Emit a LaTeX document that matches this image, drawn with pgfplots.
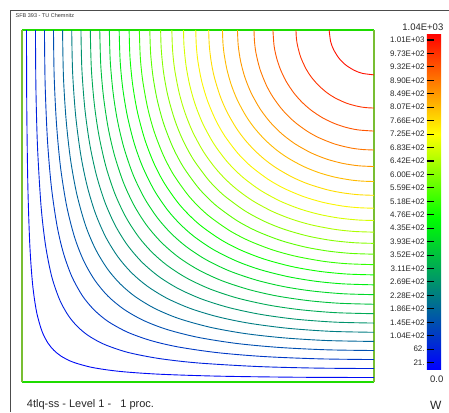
\documentclass[border=0pt]{standalone}
\usepackage{pgfplots}
\pgfplotsset{compat=1.18}
\usepackage{fontspec}
\setmainfont{Liberation Sans}
\definecolor{c0}{RGB}{0,11,244}
\definecolor{c1}{RGB}{0,34,221}
\definecolor{c2}{RGB}{0,57,198}
\definecolor{c3}{RGB}{0,79,176}
\definecolor{c4}{RGB}{0,102,153}
\definecolor{c5}{RGB}{0,125,130}
\definecolor{c6}{RGB}{0,147,108}
\definecolor{c7}{RGB}{0,170,85}
\definecolor{c8}{RGB}{0,193,62}
\definecolor{c9}{RGB}{0,215,40}
\definecolor{c10}{RGB}{0,238,17}
\definecolor{c11}{RGB}{10,255,0}
\definecolor{c12}{RGB}{51,255,0}
\definecolor{c13}{RGB}{92,255,0}
\definecolor{c14}{RGB}{133,255,0}
\definecolor{c15}{RGB}{173,255,0}
\definecolor{c16}{RGB}{214,255,0}
\definecolor{c17}{RGB}{250,245,0}
\definecolor{c18}{RGB}{255,221,0}
\definecolor{c19}{RGB}{255,187,0}
\definecolor{c20}{RGB}{255,153,0}
\definecolor{c21}{RGB}{255,119,0}
\definecolor{c22}{RGB}{255,85,0}
\definecolor{c23}{RGB}{255,51,0}
\definecolor{c24}{RGB}{255,17,0}
\definecolor{framex}{RGB}{30,220,0}
\definecolor{framey}{RGB}{120,190,50}
\begin{document}
\begin{tikzpicture}
\path[use as bounding box] (0,0) rectangle (449pt,412pt);
\draw[black!70, line width=1pt] (10.5pt,0) -- (10.5pt,401.5pt) -- (449pt,401.5pt);
\node[anchor=west, inner sep=0, font=\fontsize{5.5}{6}\selectfont, text=black!80] at (15.5pt,396.3pt) {SFB 393 - TU Chemnitz};
\node[anchor=west, inner sep=0, font=\fontsize{11}{12}\selectfont, text=black!85] at (26.7pt,7pt) {4tlq-ss - Level 1 -\ \ \ 1 proc.};
\node[anchor=west, inner sep=0, font=\fontsize{12}{13}\selectfont, text=black!85] at (430pt,7pt) {W};
\node[anchor=east, inner sep=0, font=\fontsize{9.5}{10}\selectfont, text=black!85] at (443.5pt,384.3pt) {1.04E+03};
\node[anchor=east, inner sep=0, font=\fontsize{9.5}{10}\selectfont, text=black!85] at (443.5pt,33pt) {0.0};
\begin{axis}[
  at={(22pt,30pt)}, anchor=south west,
  scale only axis, width=352pt, height=352pt,
  xmin=0, xmax=90, ymin=0, ymax=90,
  xtick=\empty, ytick=\empty,
  separate axis lines,
  every outer x axis line/.append style={draw=framex, line width=1.5pt},
  every outer y axis line/.append style={draw=framey, line width=1.5pt},
  colormap={wmap}{rgb255(0cm)=(0,0,255) rgb255(4.5cm)=(0,255,0) rgb255(7cm)=(255,255,0) rgb255(10cm)=(255,0,0)},
  point meta min=0, point meta max=1035.5,
  colorbar,
  colorbar style={
    at={(parent axis.north east)}, anchor=north west, xshift=44.3pt, yshift=-3.3pt,
    scale only axis, width=24.4pt, height=336pt,
    axis line style={draw=none},
    ytick={20.71,62.13,103.55,144.97,186.39,227.81,269.23,310.65,352.07,393.49,434.91,476.33,517.75,559.17,600.59,642.01,683.43,724.85,766.27,807.69,849.11,890.53,931.95,973.37,1014.79},
    yticklabels={21.,62.,1.04E+02,1.45E+02,1.86E+02,2.28E+02,2.69E+02,3.11E+02,3.52E+02,3.93E+02,4.35E+02,4.76E+02,5.18E+02,5.59E+02,6.00E+02,6.42E+02,6.83E+02,7.25E+02,7.66E+02,8.07E+02,8.49E+02,8.90E+02,9.32E+02,9.73E+02,1.01E+03},
    yticklabel pos=left, ytick pos=left,
    tick align=inside, major tick length=7pt,
    tick style={black, line width=1.1pt},
    yticklabel style={font=\fontsize{8}{9}\selectfont, text=black!85, inner sep=2pt},
  },
  every axis plot/.append style={line width=0.9pt, smooth},
]
\addplot[c0] coordinates {(1.15,90) (1.22,70) (1.50,50) (2.00,35) (2.71,25) (3.71,18) (5.10,13) (6.61,10) (8.13,8.13) (10,6.61) (13,5.10) (18,3.71) (25,2.71) (35,2.00) (50,1.50) (70,1.22) (90,1.15)};
\addplot[c1] coordinates {(3.44,90) (3.56,75) (3.97,60) (4.87,45) (6.01,35) (7.59,27) (9.64,21) (11.84,17) (14.18,14.18) (17,11.84) (21,9.64) (27,7.59) (35,6.01) (45,4.87) (60,3.97) (75,3.56) (90,3.44)};
\addplot[c2] coordinates {(5.74,90) (5.92,76) (6.50,62) (7.50,50) (8.95,40) (10.58,33) (12.73,27) (15.48,22) (18.44,18.44) (22,15.48) (27,12.73) (33,10.58) (40,8.95) (50,7.50) (62,6.50) (76,5.92) (90,5.74)};
\addplot[c3] coordinates {(8.05,90) (8.23,78) (8.82,66) (9.84,55) (11.42,45) (13.45,37) (15.77,31) (18.63,26) (21.97,21.97) (26,18.63) (31,15.77) (37,13.45) (45,11.42) (55,9.84) (66,8.82) (78,8.23) (90,8.05)};
\addplot[c4] coordinates {(10.37,90) (10.60,78) (11.28,67) (12.39,57) (14.02,48) (16.26,40) (18.78,34) (21.79,29) (25.10,25.10) (29,21.79) (34,18.78) (40,16.26) (48,14.02) (57,12.39) (67,11.28) (78,10.60) (90,10.37)};
\addplot[c5] coordinates {(12.71,90) (12.95,79) (13.73,68) (15.04,58) (16.69,50) (18.82,43) (21.44,37) (24.53,32) (27.97,27.97) (32,24.53) (37,21.44) (43,18.82) (50,16.69) (58,15.04) (68,13.73) (79,12.95) (90,12.71)};
\addplot[c6] coordinates {(15.07,90) (15.31,80) (16.06,70) (17.29,61) (19.00,53) (21.19,46) (23.86,40) (26.96,35) (30.66,30.66) (35,26.96) (40,23.86) (46,21.19) (53,19.00) (61,17.29) (70,16.06) (80,15.31) (90,15.07)};
\addplot[c7] coordinates {(17.46,90) (17.74,80) (18.50,71) (19.68,63) (21.48,55) (23.81,48) (26.64,42) (29.90,37) (33.21,33.21) (37,29.90) (42,26.64) (48,23.81) (55,21.48) (63,19.68) (71,18.50) (80,17.74) (90,17.46)};
\addplot[c8] coordinates {(19.88,90) (20.14,81) (20.83,73) (22.03,65) (23.64,58) (25.94,51) (28.74,45) (31.93,40) (35.67,35.67) (40,31.93) (45,28.74) (51,25.94) (58,23.64) (65,22.03) (73,20.83) (81,20.14) (90,19.88)};
\addplot[c9] coordinates {(22.33,90) (22.57,82) (23.29,74) (24.38,67) (26.03,60) (28.41,53) (31.31,47) (34.61,42) (38.06,38.06) (42,34.61) (47,31.31) (53,28.41) (60,26.03) (67,24.38) (74,23.29) (82,22.57) (90,22.33)};
\addplot[c10] coordinates {(24.84,90) (25.10,82) (25.77,75) (26.94,68) (28.70,61) (30.85,55) (33.82,49) (37.20,44) (40.40,40.40) (44,37.20) (49,33.82) (55,30.85) (61,28.70) (68,26.94) (75,25.77) (82,25.10) (90,24.84)};
\addplot[c11] coordinates {(27.39,90) (27.61,83) (28.30,76) (29.52,69) (31.40,62) (33.70,56) (36.29,51) (39.75,46) (42.71,42.71) (46,39.75) (51,36.29) (56,33.70) (62,31.40) (69,29.52) (76,28.30) (83,27.61) (90,27.39)};
\addplot[c12] coordinates {(30,90) (30.25,83) (30.87,77) (32.15,70) (33.80,64) (36.13,58) (38.76,53) (42.29,48) (45,45) (48,42.29) (53,38.76) (58,36.13) (64,33.80) (70,32.15) (77,30.87) (83,30.25) (90,30)};
\addplot[c13] coordinates {(32.68,90) (32.89,84) (33.51,78) (34.60,72) (36.24,66) (38.58,60) (41.24,55) (44.82,50) (47.30,47.30) (50,44.82) (55,41.24) (60,38.58) (66,36.24) (72,34.60) (78,33.51) (84,32.89) (90,32.68)};
\addplot[c14] coordinates {(35.45,90) (35.61,85) (36.22,79) (37.34,73) (39.06,67) (41.06,62) (43.76,57) (47.40,52) (49.61,49.61) (52,47.40) (57,43.76) (62,41.06) (67,39.06) (73,37.34) (79,36.22) (85,35.61) (90,35.45)};
\addplot[c15] coordinates {(38.32,90) (38.49,85) (39.02,80) (40.17,74) (41.62,69) (43.62,64) (46.33,59) (49.19,55) (51.94,51.94) (55,49.19) (59,46.33) (64,43.62) (69,41.62) (74,40.17) (80,39.02) (85,38.49) (90,38.32)};
\addplot[c16] coordinates {(41.30,90) (41.42,86) (41.93,81) (42.86,76) (44.27,71) (46.26,66) (48.99,61) (51.90,57) (54.33,54.33) (57,51.90) (61,48.99) (66,46.26) (71,44.27) (76,42.86) (81,41.93) (86,41.42) (90,41.30)};
\addplot[c17] coordinates {(44.43,90) (44.57,86) (44.98,82) (45.92,77) (47.40,72) (49.51,67) (51.78,63) (54.75,59) (56.79,56.79) (59,54.75) (63,51.78) (67,49.51) (72,47.40) (77,45.92) (82,44.98) (86,44.57) (90,44.43)};
\addplot[c18] coordinates {(47.73,90) (47.89,86) (48.36,82) (49.16,78) (50.70,73) (52.44,69) (54.74,65) (56.94,62) (59.35,59.35) (62,56.94) (65,54.74) (69,52.44) (73,50.70) (78,49.16) (82,48.36) (86,47.89) (90,47.73)};
\addplot[c19] coordinates {(51.26,90) (51.36,87) (51.66,84) (52.38,80) (53.50,76) (55.10,72) (57.28,68) (59.39,65) (62.03,62.03) (65,59.39) (68,57.28) (72,55.10) (76,53.50) (80,52.38) (84,51.66) (87,51.36) (90,51.26)};
\addplot[c20] coordinates {(55.09,90) (55.29,86) (55.90,82) (56.96,78) (58.55,74) (60.77,70) (62.98,67) (64.90,64.90) (67,62.98) (70,60.77) (74,58.55) (78,56.96) (82,55.90) (86,55.29) (90,55.09)};
\addplot[c21] coordinates {(59.32,90) (59.45,87) (59.85,84) (60.84,80) (62.42,76) (64.07,73) (66.24,70) (68.03,68.03) (70,66.24) (73,64.07) (76,62.42) (80,60.84) (84,59.85) (87,59.45) (90,59.32)};
\addplot[c22] coordinates {(64.16,90) (64.45,86) (65.06,83) (66.05,80) (67.47,77) (69.44,74) (71.57,71.57) (74,69.44) (77,67.47) (80,66.05) (83,65.06) (86,64.45) (90,64.16)};
\addplot[c23] coordinates {(70.05,90) (70.15,88) (70.45,86) (71.28,83) (72.66,80) (73.95,78) (75.83,75.83) (78,73.95) (80,72.66) (83,71.28) (86,70.45) (88,70.15) (90,70.05)};
\addplot[c24] coordinates {(78.53,90) (78.92,87) (79.67,85) (80.88,83) (81.88,81.88) (83,80.88) (85,79.67) (87,78.92) (90,78.53)};
\end{axis}
\end{tikzpicture}
\end{document}
